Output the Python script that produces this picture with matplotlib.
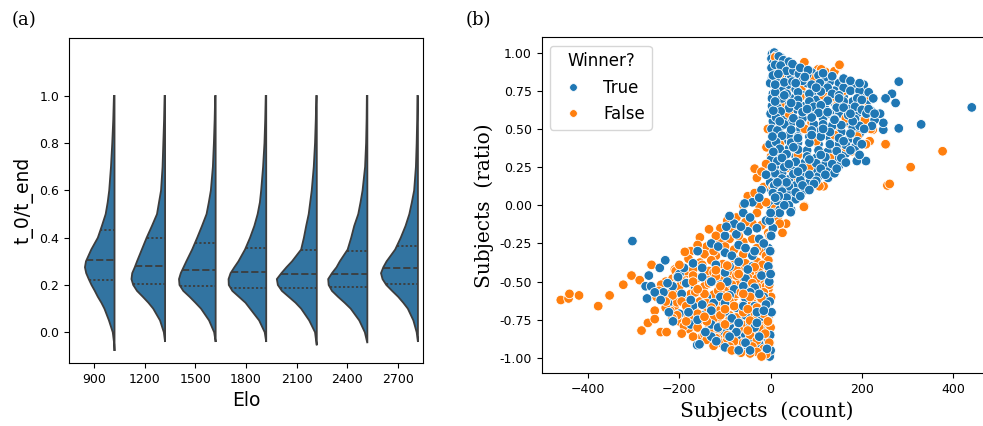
import numpy as np
import matplotlib
matplotlib.use("Agg")
import matplotlib.pyplot as plt
from matplotlib.lines import Line2D

# ---------------- panel (a): half violins of t_0/t_end per Elo ----------------
elo_labels = ["900", "1200", "1500", "1800", "2100", "2400", "2700"]

# outline of each half violin: y grid and half widths (category units)
violin_y = [-0.05, 0.0, 0.05, 0.10, 0.125, 0.15, 0.175, 0.20, 0.225, 0.25, 0.275,
            0.30, 0.35, 0.40, 0.45, 0.50, 0.55, 0.60, 0.70, 0.80, 0.90, 1.00]
w_900 = [0.006, 0.035, 0.11, 0.20, 0.26, 0.33, 0.39, 0.455, 0.51, 0.56, 0.585,
         0.565, 0.46, 0.33, 0.25, 0.175, 0.135, 0.105, 0.07, 0.045, 0.025, 0.012]
w_1200 = [0.0, 0.025, 0.10, 0.235, 0.33, 0.44, 0.555, 0.63, 0.665, 0.65, 0.60,
          0.555, 0.46, 0.365, 0.26, 0.16, 0.12, 0.08, 0.05, 0.035, 0.02, 0.01]
w_1500 = [0.0, 0.03, 0.13, 0.29, 0.40, 0.515, 0.64, 0.715, 0.725, 0.69, 0.635,
          0.58, 0.465, 0.365, 0.27, 0.18, 0.135, 0.095, 0.055, 0.035, 0.02, 0.01]
w_1800 = [0.0, 0.03, 0.14, 0.32, 0.41, 0.54, 0.67, 0.74, 0.745, 0.705, 0.63,
          0.55, 0.42, 0.32, 0.235, 0.17, 0.125, 0.10, 0.062, 0.035, 0.02, 0.01]
w_2100 = [0.005, 0.035, 0.15, 0.31, 0.42, 0.555, 0.69, 0.77, 0.79, 0.70, 0.60,
          0.49, 0.31, 0.255, 0.21, 0.16, 0.13, 0.10, 0.06, 0.035, 0.02, 0.01]
w_2400 = [0.0, 0.05, 0.16, 0.33, 0.45, 0.58, 0.70, 0.765, 0.775, 0.70, 0.61,
          0.545, 0.39, 0.32, 0.26, 0.18, 0.135, 0.095, 0.045, 0.025, 0.015, 0.01]
w_2700 = [0.0, 0.025, 0.09, 0.20, 0.29, 0.39, 0.51, 0.625, 0.70, 0.73, 0.685,
          0.62, 0.45, 0.34, 0.245, 0.17, 0.12, 0.075, 0.04, 0.025, 0.015, 0.01]
violin_widths = [w_900, w_1200, w_1500, w_1800, w_2100, w_2400, w_2700]
violin_tips = [-0.079, -0.041, -0.041, -0.041, -0.055, -0.046, -0.041]

q1 = [0.223, 0.203, 0.196, 0.189, 0.189, 0.192, 0.203]
median = [0.305, 0.281, 0.263, 0.253, 0.246, 0.246, 0.270]
q3 = [0.432, 0.400, 0.378, 0.357, 0.347, 0.343, 0.364]

# ---------------- panel (b): scatter, subjects count vs ratio ----------------
true_upper = [
    (3, 0.99), (8, 1.0), (12, 0.98), (2, 0.96), (15, 0.95), (22, 0.97), (6, 0.93),
    (30, 0.93), (40, 0.91), (4, 0.9), (18, 0.9), (55, 0.9), (70, 0.88), (12, 0.87),
    (28, 0.86), (90, 0.87), (45, 0.85), (3, 0.83), (20, 0.82), (60, 0.83), (100, 0.82),
    (130, 0.81), (150, 0.8), (8, 0.79), (38, 0.79), (80, 0.8), (115, 0.78), (170, 0.79),
    (185, 0.77), (55, 0.76), (25, 0.75), (140, 0.75), (95, 0.75), (5, 0.73), (70, 0.72),
    (120, 0.72), (160, 0.71), (200, 0.72), (15, 0.69), (45, 0.7), (100, 0.69), (180, 0.68),
    (140, 0.67), (30, 0.66), (75, 0.65), (210, 0.66), (3, 0.65), (120, 0.63), (170, 0.63),
    (50, 0.62), (10, 0.6), (90, 0.6), (150, 0.6), (190, 0.6), (30, 0.58), (70, 0.57),
    (115, 0.57), (205, 0.56), (165, 0.55), (5, 0.55), (45, 0.54), (95, 0.53), (135, 0.52),
    (180, 0.51), (20, 0.51), (65, 0.5), (110, 0.49), (155, 0.48), (195, 0.47), (8, 0.47),
    (40, 0.46), (85, 0.45), (130, 0.44), (170, 0.43), (25, 0.42), (60, 0.41), (105, 0.4),
    (150, 0.4), (5, 0.39), (185, 0.38), (40, 0.37), (80, 0.36), (125, 0.35), (165, 0.34),
    (15, 0.33), (55, 0.32), (100, 0.31), (140, 0.3), (30, 0.29), (75, 0.28), (120, 0.27),
    (150, 0.26), (10, 0.26), (50, 0.24), (95, 0.23), (125, 0.22), (25, 0.21), (70, 0.2),
    (105, 0.19), (40, 0.17), (10, 0.16), (85, 0.15), (55, 0.13), (20, 0.12), (75, 0.1),
    (40, 0.08), (10, 0.06), (55, 0.04), (25, 0.02), (45, -0.03), (5, -0.01),
    (2, 0.9), (-1, 0.8), (3, 0.7), (0, 0.6), (2, 0.5), (-2, 0.4), (1, 0.3), (3, 0.2),
    (-1, 0.15), (2, 0.1), (0, 0.0),
    (441, 0.641), (281, 0.81), (266, 0.73), (252, 0.70), (274, 0.67), (281, 0.504),
    (330, 0.53), (247, 0.495), (247, 0.54), (209, 0.29), (189, 0.29), (228, 0.56),
    (204, 0.79), (240, 0.6), (220, 0.62), (195, 0.33), (126, 0.18), (140, 0.21),
]
true_upper_2 = [
    (18, 0.975), (28, 0.95), (40, 0.94), (10, 0.92), (22, 0.915), (35, 0.88), (50, 0.88),
    (62, 0.86), (80, 0.855), (105, 0.85), (120, 0.84), (12, 0.81), (30, 0.805), (48, 0.81),
    (70, 0.815), (90, 0.79), (108, 0.8), (125, 0.77), (160, 0.77), (175, 0.75), (195, 0.75),
    (10, 0.74), (35, 0.73), (60, 0.74), (85, 0.73), (110, 0.745), (135, 0.73), (150, 0.72),
    (190, 0.7), (25, 0.7), (60, 0.69), (85, 0.68), (125, 0.685), (160, 0.68), (200, 0.69),
    (15, 0.64), (40, 0.635), (60, 0.65), (95, 0.645), (110, 0.655), (145, 0.64), (185, 0.645),
    (200, 0.625), (22, 0.615), (70, 0.61), (105, 0.605), (130, 0.6), (170, 0.59), (210, 0.6),
    (12, 0.575), (50, 0.57), (90, 0.575), (140, 0.565), (185, 0.565), (30, 0.53), (65, 0.535),
    (115, 0.53), (155, 0.525), (195, 0.52), (15, 0.49), (45, 0.495), (90, 0.49), (130, 0.48),
    (175, 0.47), (25, 0.455), (60, 0.45), (110, 0.45), (150, 0.44), (190, 0.42), (12, 0.415),
    (45, 0.41), (85, 0.41), (130, 0.4), (165, 0.395), (20, 0.37), (60, 0.365), (105, 0.36),
    (145, 0.355), (35, 0.335), (80, 0.32), (120, 0.315), (155, 0.31), (15, 0.29), (55, 0.285),
    (100, 0.275), (135, 0.27), (30, 0.25), (70, 0.245), (110, 0.24), (10, 0.21), (50, 0.205),
    (85, 0.2), (25, 0.175), (65, 0.165), (100, 0.16), (8, 0.13), (40, 0.125), (70, 0.13),
    (25, 0.09), (55, 0.085), (35, 0.05), (15, 0.03), (5, 0.85), (6, 0.62), (4, 0.45),
    (6, 0.35), (3, 0.25), (5, 0.08), (7, -0.05),
]
true_upper_3 = [
    (48, 0.925), (65, 0.9), (82, 0.885), (115, 0.865), (135, 0.845), (160, 0.83),
    (175, 0.815), (195, 0.8), (215, 0.74), (225, 0.7), (215, 0.63), (228, 0.6), (222, 0.52),
    (205, 0.5), (200, 0.4), (175, 0.36), (165, 0.28), (145, 0.24), (120, 0.2), (95, 0.14),
    (85, 0.1), (65, 0.06), (40, 0.0), (20, -0.03), (18, 0.06), (35, 0.15), (60, 0.22),
    (85, 0.3), (110, 0.33), (160, 0.42), (180, 0.55), (150, 0.7), (100, 0.77), (75, 0.84),
    (55, 0.8), (30, 0.72), (45, 0.67), (80, 0.63), (125, 0.61), (160, 0.64), (175, 0.6),
    (115, 0.5), (90, 0.46), (50, 0.38), (25, 0.31), (40, 0.27), (60, 0.44), (20, 0.55),
    (140, 0.56), (10, 0.68), (10, 0.79), (17, 0.86),
]
true_neck = [
    (-20, 0.1), (10, 0.05), (-40, 0.02), (20, -0.05), (-60, -0.05), (-10, -0.1),
    (-80, -0.12), (5, -0.15), (-50, -0.17), (-100, -0.2), (-25, -0.22), (-130, -0.25),
    (-70, -0.26), (-5, -0.28), (-160, -0.3), (-100, -0.31), (-40, -0.33), (44, -0.045),
    (-57, 0.012), (-2, -0.1), (1, -0.2), (-1, -0.3),
    (-10, 0.2), (15, 0.15), (-25, 0.05), (30, 0.0), (-45, -0.08), (0, -0.05), (-30, -0.15),
    (-75, -0.19), (-15, -0.25), (-55, -0.28), (-115, -0.27), (-85, -0.33), (-90, -0.07),
    (-97, -0.14), (-65, -0.14), (-35, -0.3),
]
true_lower = [
    (-170, -0.38), (-120, -0.39), (-70, -0.37), (-40, -0.4), (-5, -0.4),
    (-200, -0.45), (-150, -0.47), (-100, -0.44), (-55, -0.48), (-20, -0.46),
    (-215, -0.53), (-165, -0.54), (-110, -0.52), (-80, -0.55), (-35, -0.54), (-3, -0.5),
    (-195, -0.58), (-140, -0.6), (-90, -0.59), (-55, -0.61), (-15, -0.6),
    (-225, -0.64), (-170, -0.66), (-125, -0.64), (-75, -0.67), (-35, -0.66), (-2, -0.63),
    (-200, -0.71), (-150, -0.72), (-100, -0.7), (-55, -0.72), (-18, -0.73),
    (-175, -0.78), (-130, -0.78), (-90, -0.79), (-45, -0.77), (-5, -0.76),
    (-145, -0.83), (-100, -0.83), (-60, -0.84), (-20, -0.82),
    (-120, -0.88), (-75, -0.87), (-40, -0.88), (-5, -0.89),
    (-60, -0.93), (-25, -0.91), (-12, -0.97), (-2, -0.99), (0, -0.45), (2, -0.7),
    (-1, -0.85), (0, -0.95),
    (-190, -0.41), (-90, -0.4), (-130, -0.5), (-60, -0.53), (-175, -0.62), (-110, -0.6),
    (-25, -0.58), (-60, -0.66), (-130, -0.69), (-85, -0.74), (-30, -0.7), (-160, -0.75),
    (-115, -0.8), (-75, -0.83), (-35, -0.8), (-90, -0.86), (-55, -0.9), (-25, -0.86),
    (-8, -0.94), (-100, -0.93), (-10, -0.65), (-50, -0.42), (-150, -0.41), (-235, -0.57),
    (-185, -0.51), (-95, -0.5), (-45, -0.57), (-150, -0.65), (-100, -0.64), (-70, -0.77),
    (-30, -0.77), (-130, -0.86), (-15, -0.69), (-180, -0.7), (-70, -0.95), (-45, -0.95),
    (-303, -0.234), (-243, -0.41), (-267, -0.46), (-274, -0.53), (-262, -0.53),
    (-254, -0.57), (-271, -0.61), (-241, -0.62), (-226, -0.51), (-223, -0.70),
    (-214, -0.76), (-161, -0.915), (-156, -0.91), (-119, -0.89), (-143, -0.83),
    (-231, -0.36), (-203, -0.47),
]
false_upper = [
    (74, 0.937), (104, 0.89), (120, 0.874), (140, 0.878), (151, 0.915), (56, 0.90),
    (27, 0.90), (48, 0.84), (39, 0.77), (89, 0.81), (67, 0.76), (125, 0.82), (169, 0.79),
    (175, 0.66), (186, 0.68), (217, 0.706), (211, 0.593), (224, 0.495), (217, 0.42),
    (253, 0.40), (209, 0.40), (178, 0.354), (160, 0.33), (138, 0.365), (116, 0.343),
    (94, 0.29), (60, 0.17), (116, 0.125), (74, -0.005), (12, 0.46), (30, 0.594),
    (1, 0.32), (30, 0.35), (56, 0.44), (116, 0.51), (153, 0.49), (171, 0.54), (145, 0.65),
    (72, 0.58), (21, 0.66), (46, 0.54), (90, 0.54), (116, 0.72), (38, 0.245), (10, 0.97),
    (-6, 0.5), (-9, 0.38), (151, 0.92), (111, 0.89), (377, 0.354), (307, 0.25),
    (256, 0.13), (261, 0.14), (252, 0.40), (220, 0.50), (207, 0.56), (202, 0.64),
    (20, 0.85), (95, 0.83), (160, 0.75), (130, 0.7), (65, 0.71), (195, 0.66), (105, 0.62),
    (40, 0.6), (165, 0.57), (75, 0.5), (140, 0.46), (190, 0.45), (100, 0.42), (20, 0.4),
    (165, 0.38), (60, 0.33), (130, 0.31), (85, 0.25), (20, 0.19), (50, 0.11),
]
false_neck = [
    (-30, 0.18), (-15, 0.12), (0, 0.2), (-50, 0.06), (-25, 0.0), (15, -0.08), (-75, -0.08),
    (-40, -0.12), (-110, -0.15), (-5, -0.18), (-90, -0.22), (-60, -0.24), (-140, -0.27),
    (-20, -0.3), (-120, -0.33), (-175, -0.3), (34, -0.12), (26, -0.18), (73, -0.01),
    (107, 0.125), (-35, 0.24), (-10, 0.27), (-155, -0.21), (-135, -0.157), (-2, -0.2),
    (0, -0.3),
    (-20, 0.22), (5, 0.12), (-35, 0.08), (-10, 0.02), (-60, 0.0), (10, -0.02), (-30, -0.05),
    (-55, -0.11), (-20, -0.13), (-85, -0.15), (-70, -0.2), (-40, -0.22), (-110, -0.24),
    (-30, -0.28), (-80, -0.29), (-145, -0.32), (-60, -0.32), (-10, -0.33), (20, -0.12),
    (-95, -0.1), (-120, -0.2), (-125, -0.3), (-100, -0.27), (-160, -0.26),
]
false_lower = [
    (-180, -0.35), (-130, -0.36), (-80, -0.35), (-30, -0.37), (-5, -0.36),
    (-210, -0.42), (-160, -0.4), (-110, -0.41), (-60, -0.4), (-15, -0.42),
    (-190, -0.46), (-140, -0.45), (-90, -0.46), (-40, -0.45), (-8, -0.47),
    (-230, -0.5), (-175, -0.51), (-120, -0.5), (-70, -0.5), (-25, -0.52),
    (-205, -0.56), (-150, -0.55), (-100, -0.57), (-50, -0.56), (-5, -0.55),
    (-235, -0.61), (-185, -0.6), (-130, -0.61), (-80, -0.6), (-30, -0.62),
    (-210, -0.66), (-160, -0.65), (-110, -0.66), (-60, -0.65), (-12, -0.67),
    (-190, -0.71), (-140, -0.7), (-90, -0.72), (-40, -0.7), (-3, -0.72),
    (-200, -0.76), (-160, -0.77), (-115, -0.76), (-65, -0.75), (-20, -0.77),
    (-180, -0.81), (-135, -0.8), (-85, -0.82), (-45, -0.8), (-8, -0.82),
    (-150, -0.86), (-105, -0.85), (-60, -0.87), (-25, -0.86),
    (-110, -0.9), (-75, -0.91), (-40, -0.9), (-10, -0.92),
    (-50, -0.94), (-20, -0.96), (-5, -0.98),
    (-155, -0.375), (-105, -0.385), (-55, -0.38), (-18, -0.39),
    (-185, -0.43), (-135, -0.43), (-85, -0.43), (-35, -0.43),
    (-215, -0.48), (-160, -0.475), (-110, -0.48), (-60, -0.475), (-15, -0.49),
    (-200, -0.53), (-145, -0.53), (-95, -0.535), (-45, -0.53), (-10, -0.53),
    (-225, -0.58), (-175, -0.58), (-125, -0.585), (-75, -0.58), (-25, -0.585),
    (-205, -0.635), (-155, -0.63), (-105, -0.635), (-55, -0.63), (-6, -0.64),
    (-220, -0.69), (-170, -0.68), (-115, -0.69), (-65, -0.685), (-20, -0.69),
    (-175, -0.735), (-125, -0.74), (-75, -0.735), (-30, -0.74),
    (-190, -0.79), (-110, -0.79), (-60, -0.785), (-15, -0.79),
    (-130, -0.835), (-80, -0.84), (-35, -0.835), (-4, -0.85),
    (-95, -0.875), (-55, -0.88), (-15, -0.875), (-30, -0.93), (-8, -0.95),
    (-4, -0.5), (1, -0.6), (-3, -0.7), (0, -0.8), (-2, -0.9), (-1, -0.97),
    (-460, -0.62), (-443, -0.61), (-441, -0.58), (-420, -0.59), (-378, -0.66),
    (-353, -0.59), (-323, -0.52), (-305, -0.46), (-287, -0.49), (-261, -0.39),
    (-283, -0.82), (-269, -0.77), (-254, -0.69), (-254, -0.745), (-241, -0.83),
    (-228, -0.83), (-208, -0.43), (-188, -0.305),
]
false_lower_2 = [
    (-170, -0.42), (-125, -0.44), (-75, -0.42), (-25, -0.44), (-3, -0.43),
    (-205, -0.47), (-170, -0.46), (-120, -0.465), (-75, -0.46), (-30, -0.48),
    (-240, -0.52), (-190, -0.5), (-135, -0.51), (-85, -0.52), (-40, -0.51), (-3, -0.52),
    (-215, -0.59), (-165, -0.57), (-115, -0.56), (-65, -0.57), (-15, -0.57),
    (-195, -0.63), (-140, -0.64), (-90, -0.63), (-40, -0.64), (-20, -0.61),
    (-230, -0.67), (-185, -0.66), (-130, -0.67), (-80, -0.66), (-30, -0.67),
    (-205, -0.72), (-160, -0.71), (-110, -0.72), (-60, -0.7), (-15, -0.71),
    (-185, -0.76), (-140, -0.76), (-90, -0.75), (-45, -0.755), (-6, -0.76),
    (-160, -0.8), (-115, -0.81), (-70, -0.81), (-25, -0.8),
    (-145, -0.845), (-95, -0.85), (-45, -0.85), (-12, -0.84),
    (-120, -0.87), (-80, -0.89), (-30, -0.885), (-3, -0.9),
    (-90, -0.925), (-60, -0.9), (-40, -0.925), (-15, -0.94), (-30, -0.96), (-10, -0.975),
    (-150, -0.39), (-200, -0.39), (-95, -0.395), (-35, -0.405), (-245, -0.56),
    (-230, -0.63), (-250, -0.6), (-215, -0.74), (-195, -0.84), (-170, -0.86),
    (-140, -0.88), (-125, -0.92), (-85, -0.95), (-65, -0.965), (-45, -0.97), (-20, -0.99),
    (-45, -0.6), (-95, -0.6), (-145, -0.58), (-70, -0.45), (-120, -0.425), (-170, -0.5),
    (-100, -0.68), (-50, -0.68), (-145, -0.73), (-100, -0.78), (-50, -0.82), (-160, -0.55),
    (-110, -0.53), (-60, -0.58),
]

BLUE = "#1f77b4"
ORANGE = "#ff7f0e"
VIOLIN = "#3274a1"
LINE = "#3d3d3d"

fig = plt.figure(figsize=(9.83, 4.26), dpi=100)
ax1 = fig.add_axes([0.0702, 0.1479, 0.3601, 0.7629])
ax2 = fig.add_axes([0.5510, 0.1237, 0.4580, 0.7887])

# half violins: flat side on the right of each category slot
for i, (ws, tip) in enumerate(zip(violin_widths, violin_tips)):
    edge = i + 0.4
    ys = np.array([tip] + [y for y in violin_y if y > tip])
    ww = np.array([0.0] + [w for y, w in zip(violin_y, ws) if y > tip])
    px = np.r_[edge - ww, edge, edge]
    py = np.r_[ys, ys[-1], ys[0]]
    ax1.fill(px, py, facecolor=VIOLIN, edgecolor=LINE, linewidth=1.3, zorder=2)
    for q, ls in [(q1[i], (0, (1.2, 1.2))), (median[i], (0, (4, 1.6))),
                  (q3[i], (0, (1.2, 1.2)))]:
        half = np.interp(q, ys, ww)
        ax1.plot([edge - half, edge], [q, q], color=LINE, linewidth=1.3,
                 linestyle=ls, zorder=3)

ax1.set_xlim(-0.5, 6.5)
ax1.set_ylim(-0.13, 1.245)
ax1.set_xticks(range(len(elo_labels)))
ax1.set_xticklabels(elo_labels)
ax1.set_yticks([0.0, 0.2, 0.4, 0.6, 0.8, 1.0])
ax1.set_yticklabels(["0.0", "0.2", "0.4", "0.6", "0.8", "1.0"])
ax1.tick_params(labelsize=9)
ax1.set_xlabel("Elo", fontsize=13.5)
ax1.set_ylabel("t_0/t_end", fontsize=13.5)

# scatter, interleaving the two groups in proportion
t_pts = np.array(true_upper + true_upper_2 + true_upper_3 + true_neck + true_lower,
                 dtype=float)
f_pts = np.array(false_upper + false_neck + false_lower + false_lower_2, dtype=float)
nt, nf = len(t_pts), len(f_pts)
all_pts = np.vstack([t_pts, f_pts])
all_col = np.array([BLUE] * nt + [ORANGE] * nf)
keys = np.r_[np.arange(nt) / nt, (np.arange(nf) + 0.5) / nf]
order = np.argsort(keys, kind="stable")
ax2.scatter(all_pts[order, 0], all_pts[order, 1], c=all_col[order], s=48,
            edgecolors="white", linewidths=0.6, zorder=2)

ax2.set_xlim(-502, 485)
ax2.set_ylim(-1.1, 1.1)
ax2.set_xticks([-400, -200, 0, 200, 400])
ax2.set_yticks([-1.0, -0.75, -0.5, -0.25, 0.0, 0.25, 0.5, 0.75, 1.0])
ax2.yaxis.set_major_formatter(matplotlib.ticker.FormatStrFormatter("%.2f"))
ax2.tick_params(labelsize=9)
ax2.set_xlabel("Subjects  (count)", fontsize=14.5, family="DejaVu Serif")
ax2.set_ylabel("Subjects  (ratio)", fontsize=14.5, family="DejaVu Serif")

handles = [Line2D([], [], marker="o", linestyle="", color=BLUE, markersize=5.5,
                  markeredgecolor="white", markeredgewidth=0.5),
           Line2D([], [], marker="o", linestyle="", color=ORANGE, markersize=5.5,
                  markeredgecolor="white", markeredgewidth=0.5)]
ax2.legend(handles, ["True", "False"], title="Winner?", loc="upper left",
           fontsize=12, title_fontsize=12)

fig.text(0.012, 0.975, "(a)", fontsize=13, family="DejaVu Serif", va="top")
fig.text(0.474, 0.975, "(b)", fontsize=13, family="DejaVu Serif", va="top")

fig.savefig("out.png", dpi=100)
